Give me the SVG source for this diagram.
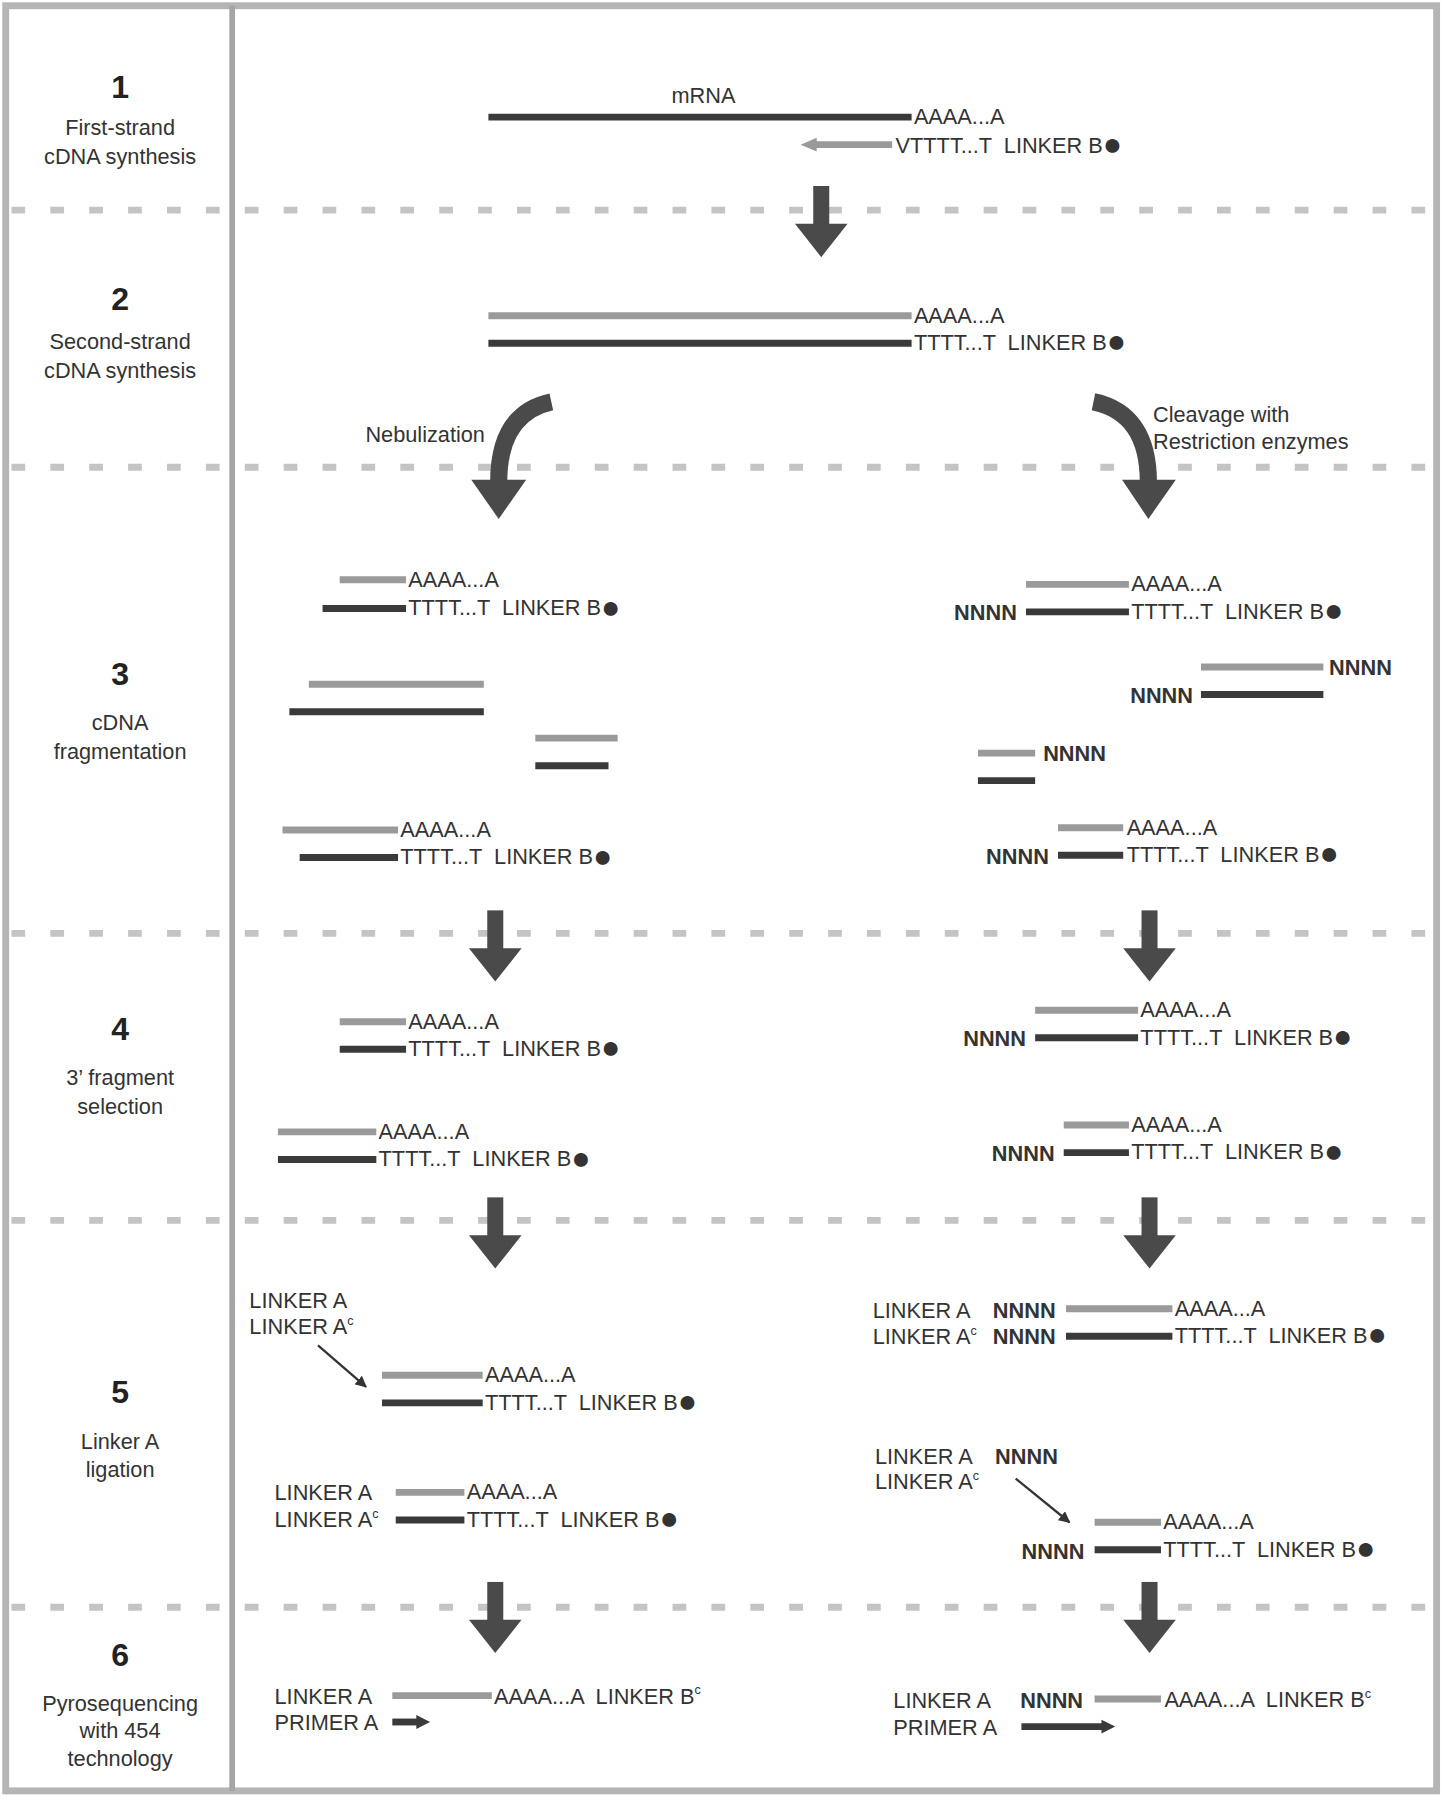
<svg xmlns="http://www.w3.org/2000/svg" width="1448" height="1800" viewBox="0 0 1448 1800">
<style>
text{font-family:"Liberation Sans",Arial,sans-serif;fill:#333;font-size:19px;white-space:pre}
.n{font-size:28px;font-weight:bold;text-anchor:middle;fill:#222}
.l{text-anchor:middle}
.b{font-weight:bold}
.e{text-anchor:end}
.dot{font-size:28px}
.d{stroke:#3a3a3a;stroke-width:6}
.g{stroke:#9a9a9a;stroke-width:6}
.sep{stroke:#c4c4c4;stroke-width:6;stroke-dasharray:12 22}
.bar{fill:#4a4a4a}
</style>
<defs>
<marker id="ah" viewBox="0 0 10 10" refX="9" refY="5" markerWidth="5" markerHeight="5" orient="auto"><path d="M0,0L10,5L0,10z" fill="#333"/></marker>
<g id="down"><rect x="-7" y="0" width="14" height="34" class="bar"/><path d="M-23,33L23,33L0,62z" class="bar"/></g>
</defs>
<rect width="1448" height="1800" fill="#fff"/>
<g transform="scale(1.1438,1.148)">
<g id="frame">
<rect x="5" y="5" width="1251" height="1555" fill="none" stroke="#b5b5b5" stroke-width="6"/>
<line x1="203" y1="5" x2="203" y2="1560" stroke="#a5a5a5" stroke-width="5"/>
<line class="sep" x1="10" y1="183" x2="1250" y2="183"/>
<line class="sep" x1="10" y1="407" x2="1250" y2="407"/>
<line class="sep" x1="10" y1="813" x2="1250" y2="813"/>
<line class="sep" x1="10" y1="1063" x2="1250" y2="1063"/>
<line class="sep" x1="10" y1="1400" x2="1250" y2="1400"/>
</g>
<g id="labels">
<text class="n" x="105" y="85">1</text><text class="l" x="105" y="118">First-strand</text><text class="l" x="105" y="143">cDNA synthesis</text>
<text class="n" x="105" y="270">2</text><text class="l" x="105" y="304">Second-strand</text><text class="l" x="105" y="329">cDNA synthesis</text>
<text class="n" x="105" y="597">3</text><text class="l" x="105" y="636">cDNA</text><text class="l" x="105" y="661">fragmentation</text>
<text class="n" x="105" y="906">4</text><text class="l" x="105" y="945">3’ fragment</text><text class="l" x="105" y="970">selection</text>
<text class="n" x="105" y="1222">5</text><text class="l" x="105" y="1262">Linker A</text><text class="l" x="105" y="1287">ligation</text>
<text class="n" x="105" y="1451">6</text><text class="l" x="105" y="1490">Pyrosequencing</text><text class="l" x="105" y="1514">with 454</text><text class="l" x="105" y="1538">technology</text>
</g>
<g id="connectors">
<use href="#down" x="718" y="162"/>
<path d="M482,350 Q436,360 436,420" fill="none" stroke="#4a4a4a" stroke-width="15"/><path d="M412,418L460,418L436,452z" class="bar"/>
<path d="M956,350 Q1004,360 1004,420" fill="none" stroke="#4a4a4a" stroke-width="15"/><path d="M981,418L1028,418L1004,452z" class="bar"/>
<use href="#down" x="433" y="793"/><use href="#down" x="1005" y="793"/>
<use href="#down" x="433" y="1043"/><use href="#down" x="1005" y="1043"/>
<use href="#down" x="433" y="1378"/><use href="#down" x="1005" y="1378"/>
<line x1="278" y1="1172" x2="320" y2="1208" stroke="#333" stroke-width="2" marker-end="url(#ah)"/>
<line x1="888" y1="1288" x2="935" y2="1326" stroke="#333" stroke-width="2" marker-end="url(#ah)"/>
</g>
<g id="step1">
<text x="615" y="90" class="l">mRNA</text>
<line class="d" x1="427" y1="102" x2="797" y2="102"/><text x="799" y="108">AAAA...A</text>
<line class="g" x1="712" y1="126" x2="780" y2="126"/><path d="M700,126L714,120L714,132z" fill="#9a9a9a"/>
<text x="783" y="133">VTTTT...T  LINKER B<tspan class="dot" dy="2">●</tspan></text>
</g>
<g id="step2">
<line class="g" x1="427" y1="275" x2="797" y2="275"/><text x="799" y="281">AAAA...A</text>
<line class="d" x1="427" y1="299" x2="797" y2="299"/><text x="799" y="305">TTTT...T  LINKER B<tspan class="dot" dy="2">●</tspan></text>
<text x="424" y="385" class="e">Nebulization</text>
<text x="1008" y="368">Cleavage with</text><text x="1008" y="391">Restriction enzymes</text>
</g>
<g id="step3">
<line class="g" x1="297" y1="505" x2="355" y2="505"/><text x="357" y="511">AAAA...A</text>
<line class="d" x1="282" y1="530" x2="355" y2="530"/><text x="357" y="536">TTTT...T  LINKER B<tspan class="dot" dy="2">●</tspan></text>
<line class="g" x1="270" y1="596" x2="423" y2="596"/><line class="d" x1="253" y1="620" x2="423" y2="620"/>
<line class="g" x1="468" y1="643" x2="540" y2="643"/><line class="d" x1="468" y1="667" x2="532" y2="667"/>
<line class="g" x1="247" y1="723" x2="348" y2="723"/><text x="350" y="729">AAAA...A</text>
<line class="d" x1="262" y1="747" x2="348" y2="747"/><text x="350" y="753">TTTT...T  LINKER B<tspan class="dot" dy="2">●</tspan></text>
<line class="g" x1="897" y1="509" x2="987" y2="509"/><text x="989" y="515">AAAA...A</text>
<text x="889" y="540" class="b e">NNNN</text>
<line class="d" x1="897" y1="533" x2="987" y2="533"/><text x="989" y="539">TTTT...T  LINKER B<tspan class="dot" dy="2">●</tspan></text>
<line class="g" x1="1050" y1="581" x2="1157" y2="581"/><text x="1162" y="588" class="b">NNNN</text>
<text x="1043" y="612" class="b e">NNNN</text><line class="d" x1="1050" y1="605" x2="1157" y2="605"/>
<line class="g" x1="855" y1="656" x2="905" y2="656"/><text x="912" y="663" class="b">NNNN</text>
<line class="d" x1="855" y1="680" x2="905" y2="680"/>
<line class="g" x1="925" y1="721" x2="982" y2="721"/><text x="985" y="727">AAAA...A</text>
<text x="917" y="753" class="b e">NNNN</text>
<line class="d" x1="925" y1="745" x2="982" y2="745"/><text x="985" y="751">TTTT...T  LINKER B<tspan class="dot" dy="2">●</tspan></text>
</g>
<g id="step4">
<line class="g" x1="297" y1="890" x2="355" y2="890"/><text x="357" y="896">AAAA...A</text>
<line class="d" x1="297" y1="914" x2="355" y2="914"/><text x="357" y="920">TTTT...T  LINKER B<tspan class="dot" dy="2">●</tspan></text>
<line class="g" x1="243" y1="986" x2="329" y2="986"/><text x="331" y="992">AAAA...A</text>
<line class="d" x1="243" y1="1010" x2="329" y2="1010"/><text x="331" y="1016">TTTT...T  LINKER B<tspan class="dot" dy="2">●</tspan></text>
<line class="g" x1="905" y1="880" x2="995" y2="880"/><text x="997" y="886">AAAA...A</text>
<text x="897" y="911" class="b e">NNNN</text>
<line class="d" x1="905" y1="904" x2="995" y2="904"/><text x="997" y="910">TTTT...T  LINKER B<tspan class="dot" dy="2">●</tspan></text>
<line class="g" x1="930" y1="980" x2="987" y2="980"/><text x="989" y="986">AAAA...A</text>
<text x="922" y="1011" class="b e">NNNN</text>
<line class="d" x1="930" y1="1004" x2="987" y2="1004"/><text x="989" y="1010">TTTT...T  LINKER B<tspan class="dot" dy="2">●</tspan></text>
</g>
<g id="step5">
<text x="218" y="1139">LINKER A</text><text x="218" y="1162">LINKER A<tspan font-size="11" dy="-8">c</tspan></text>
<line class="g" x1="334" y1="1198" x2="422" y2="1198"/><text x="424" y="1204">AAAA...A</text>
<line class="d" x1="334" y1="1222" x2="422" y2="1222"/><text x="424" y="1228">TTTT...T  LINKER B<tspan class="dot" dy="2">●</tspan></text>
<text x="240" y="1307">LINKER A</text><text x="240" y="1330">LINKER A<tspan font-size="11" dy="-8">c</tspan></text>
<line class="g" x1="346" y1="1300" x2="406" y2="1300"/><text x="408" y="1306">AAAA...A</text>
<line class="d" x1="346" y1="1324" x2="406" y2="1324"/><text x="408" y="1330">TTTT...T  LINKER B<tspan class="dot" dy="2">●</tspan></text>
<text x="763" y="1148">LINKER A</text><text x="868" y="1148" class="b">NNNN</text>
<line class="g" x1="932" y1="1140" x2="1025" y2="1140"/><text x="1027" y="1146">AAAA...A</text>
<text x="763" y="1171">LINKER A<tspan font-size="11" dy="-8">c</tspan></text><text x="868" y="1171" class="b">NNNN</text>
<line class="d" x1="932" y1="1164" x2="1025" y2="1164"/><text x="1027" y="1170">TTTT...T  LINKER B<tspan class="dot" dy="2">●</tspan></text>
<text x="765" y="1275">LINKER A</text><text x="870" y="1275" class="b">NNNN</text>
<text x="765" y="1297">LINKER A<tspan font-size="11" dy="-8">c</tspan></text>
<line class="g" x1="957" y1="1326" x2="1015" y2="1326"/><text x="1017" y="1332">AAAA...A</text>
<text x="948" y="1358" class="b e">NNNN</text>
<line class="d" x1="957" y1="1350" x2="1015" y2="1350"/><text x="1017" y="1356">TTTT...T  LINKER B<tspan class="dot" dy="2">●</tspan></text>
</g>
<g id="step6">
<text x="240" y="1484">LINKER A</text>
<line class="g" x1="343" y1="1477" x2="430" y2="1477"/><text x="432" y="1484">AAAA...A  LINKER B<tspan font-size="11" dy="-8">c</tspan></text>
<text x="240" y="1507">PRIMER A</text>
<line class="d" x1="343" y1="1500" x2="366" y2="1500" stroke-width="4"/><path d="M364,1494L376,1500L364,1506z" fill="#3a3a3a"/>
<text x="781" y="1488">LINKER A</text><text x="892" y="1488" class="b">NNNN</text>
<line class="g" x1="957" y1="1480" x2="1015" y2="1480"/><text x="1018" y="1487">AAAA...A  LINKER B<tspan font-size="11" dy="-8">c</tspan></text>
<text x="781" y="1511">PRIMER A</text>
<line class="d" x1="893" y1="1504" x2="965" y2="1504" stroke-width="4"/><path d="M963,1498L975,1504L963,1510z" fill="#3a3a3a"/>
</g>
</g>
</svg>
